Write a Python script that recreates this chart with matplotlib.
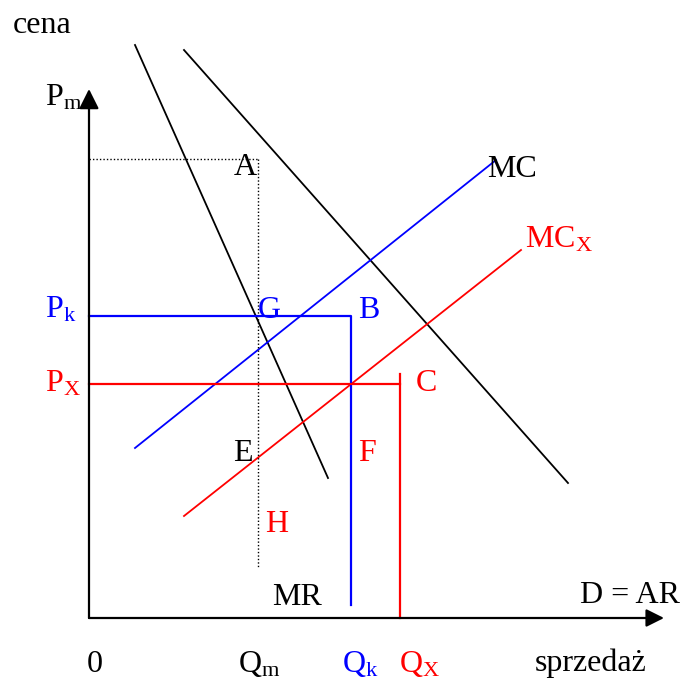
import matplotlib
matplotlib.use("Agg")
import matplotlib.pyplot as plt

plt.rcParams['font.family'] = ['Liberation Serif', 'DejaVu Serif']
plt.rcParams['mathtext.fontset'] = 'custom'
plt.rcParams['mathtext.rm'] = 'Liberation Serif'
plt.rcParams['mathtext.it'] = 'Liberation Serif'

# Diagram geometry (pixel space of the picture, y down)
origin = (89, 618)
y_axis_top = 89
x_axis_right = 664

mr_line = ([135, 328], [45, 478])
ar_line = ([184, 568], [50, 483])
mc_line = ([135, 496], [448, 160])
mcx_line = ([184, 521], [516, 250])

pm_level = 159
qm_pos = 258
qm_bottom = 567
pk_level = 316
qk_pos = 351
qk_bottom = 605
px_level = 384
qx_pos = 400
qx_top = 374

labels = [
    # text, x, baseline y, color, ha
    ("cena", 13, 33, "black", "left"),
    (r"P$_\mathrm{m}$", 45, 105, "black", "left"),
    ("A", 245, 175, "black", "center"),
    ("MC", 487, 177, "black", "left"),
    (r"MC$_\mathrm{X}$", 525, 247, "red", "left"),
    (r"P$_\mathrm{k}$", 45, 318, "blue", "left"),
    ("G", 269, 318, "blue", "center"),
    ("B", 369, 318, "blue", "center"),
    (r"P$_\mathrm{X}$", 45, 391, "red", "left"),
    ("C", 426, 391, "red", "center"),
    ("E", 243, 461, "black", "center"),
    ("F", 367, 461, "red", "center"),
    ("H", 277, 532, "red", "center"),
    ("MR", 297, 605, "black", "center"),
    ("D = AR", 580, 603, "black", "left"),
    ("0", 95, 672, "black", "center"),
    (r"Q$_\mathrm{m}$", 238, 672, "black", "left"),
    (r"Q$_\mathrm{k}$", 342, 672, "blue", "left"),
    (r"Q$_\mathrm{X}$", 399, 672, "red", "left"),
    ("sprzedaż", 535, 671, "black", "left"),
]

fig = plt.figure(figsize=(6.83, 6.82), dpi=100)
ax = fig.add_axes([0, 0, 1, 1])
ax.set_xlim(0, 683)
ax.set_ylim(682, 0)
ax.axis("off")

ox, oy = origin
arrow_style = "-|>,head_length=0.6,head_width=0.3"
# axes with arrows
ax.annotate("", xy=(ox, y_axis_top), xytext=(ox, oy),
            arrowprops=dict(arrowstyle=arrow_style, color="black", lw=1.6,
                            mutation_scale=20, shrinkA=0, shrinkB=0))
ax.annotate("", xy=(x_axis_right, oy), xytext=(ox, oy),
            arrowprops=dict(arrowstyle=arrow_style, color="black", lw=1.6,
                            mutation_scale=18, shrinkA=0, shrinkB=0))

# curves
ax.plot(*mr_line, color="black", lw=1.3)
ax.plot(*ar_line, color="black", lw=1.3)
ax.plot(*mc_line, color="blue", lw=1.3)
ax.plot(*mcx_line, color="red", lw=1.3)

# dotted monopoly guides
ax.plot([ox, qm_pos], [pm_level, pm_level], color="black", lw=1.0, ls=(0, (1, 1.5)))
ax.plot([qm_pos, qm_pos], [pm_level, qm_bottom], color="black", lw=1.0, ls=(0, (1, 1.5)))

# blue Pk / Qk
ax.plot([ox, qk_pos, qk_pos], [pk_level, pk_level, qk_bottom], color="blue", lw=1.6)
# red Px / Qx
ax.plot([ox, qx_pos], [px_level, px_level], color="red", lw=1.6)
ax.plot([qx_pos, qx_pos], [qx_top, oy], color="red", lw=1.6)

for t, x, y, c, ha in labels:
    ax.text(x, y, t, color=c, fontsize=23, ha=ha, va="baseline")

fig.savefig("out.png", dpi=100)
